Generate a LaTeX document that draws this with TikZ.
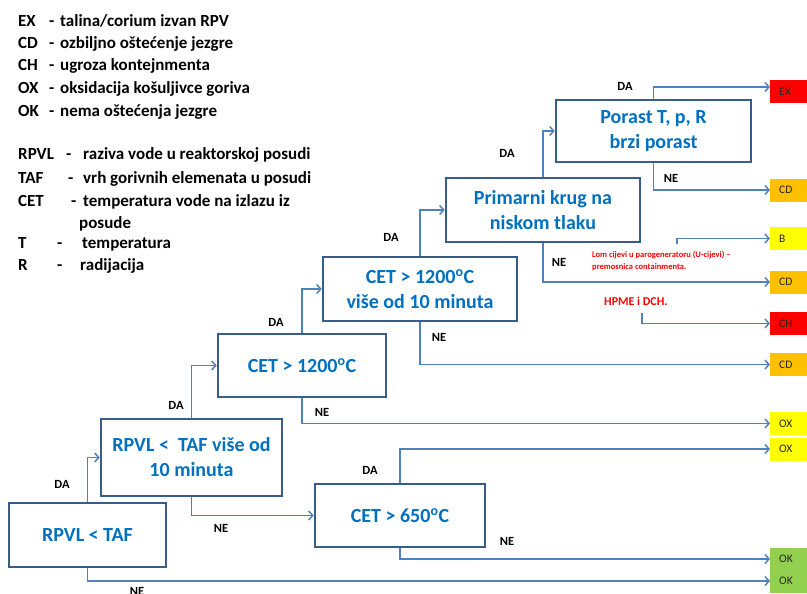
\documentclass[tikz,border=0pt]{standalone}
\usepackage{fontspec}
\setmainfont{Carlito}
\usetikzlibrary{arrows.meta,positioning}
\definecolor{BoxBorder}{RGB}{56,93,138}
\definecolor{LineBlue}{RGB}{79,129,189}
\definecolor{TextBlue}{RGB}{0,112,192}
\definecolor{ResRed}{RGB}{255,0,0}
\definecolor{ResOrange}{RGB}{255,192,0}
\definecolor{ResYellow}{RGB}{255,255,0}
\definecolor{ResGreen}{RGB}{146,208,80}

\begin{document}
\begin{tikzpicture}[x=1pt, y=-1pt, >={Straight Barb[length=4pt,width=9pt]},
    cond/.style={draw=BoxBorder, line width=2.6pt, align=center, text=TextBlue,
        font=\fontsize{20}{25}\selectfont\bfseries, inner sep=0pt},
    conn/.style={->, draw=LineBlue, line width=1.5pt},
    res/.style={anchor=west, minimum height=23pt, text width=28pt, inner xsep=9pt,
        align=left, font=\fontsize{11.5}{12}\selectfont, text=black!85},
    lbl/.style={font=\fontsize{12.5}{13}\selectfont\bfseries},
    note/.style={anchor=west, inner sep=0pt, align=left, text=ResRed,
        font=\fontsize{8.5}{12}\selectfont\bfseries},
    legend/.style={anchor=base west, inner sep=0pt, font=\fontsize{17}{20}\selectfont\bfseries}]
\useasboundingbox (0,0) rectangle (807,594);

% legend
\node[legend] (legex) at (18,27) {\makebox[31pt][l]{EX}\makebox[11pt][l]{-}talina/corium izvan RPV};
\node[legend] (legcd) at (18,49) {\makebox[31pt][l]{CD}\makebox[11pt][l]{-}ozbiljno oštećenje jezgre};
\node[legend] (legch) at (18,71) {\makebox[31pt][l]{CH}\makebox[11pt][l]{-}ugroza kontejnmenta};
\node[legend] (legox) at (18,94) {\makebox[31pt][l]{OX}\makebox[11pt][l]{-}oksidacija košuljivce goriva};
\node[legend] (legok) at (18,117) {\makebox[31pt][l]{OK}\makebox[11pt][l]{-}nema oštećenja jezgre};
\node[legend] (legrpvl) at (18,160) {\makebox[48pt][l]{RPVL}\makebox[17pt][l]{-}raziva vode u reaktorskoj posudi};
\node[legend] (legtaf) at (18,183) {\makebox[50pt][l]{TAF}\makebox[15pt][l]{-}vrh gorivnih elemenata u posudi};
\node[legend] (legcet) at (18,206) {\makebox[53pt][l]{CET}\makebox[12pt][l]{-}temperatura vode na izlazu iz};
\node[legend] (legcet2) at (79,228) {posude};
\node[legend] (legt) at (18,248) {\makebox[39pt][l]{T}\makebox[25pt][l]{-}temperatura};
\node[legend] (legr) at (18,270) {\makebox[39pt][l]{R}\makebox[23pt][l]{-}radijacija};

% condition boxes
\node[cond, minimum width=157pt, minimum height=64pt] (rpvl) at (87.5,535) {RPVL < TAF};
\node[cond, minimum width=181pt, minimum height=77pt] (rpvl10) at (191.5,457.5) {RPVL <\ \ TAF više od\\10 minuta};
\node[cond, minimum width=170pt, minimum height=63pt] (cet650) at (400,515.5) {CET > 650\textsuperscript{o}C};
\node[cond, minimum width=168pt, minimum height=63pt] (cet1200) at (302,365.5) {CET > 1200\textsuperscript{o}C};
\node[cond, minimum width=194pt, minimum height=64pt] (cet1200m) at (420,289) {CET > 1200\textsuperscript{o}C\\više od 10 minuta};
\node[cond, minimum width=194pt, minimum height=64pt] (primar) at (543,210) {Primarni krug na\\niskom tlaku};
\node[cond, minimum width=195pt, minimum height=62pt] (porast) at (653.5,131) {Porast T, p, R\\brzi porast};

% end states
\node[res, fill=ResRed] (ex) at (770,91.5) {EX};
\node[res, fill=ResOrange] (cd1) at (770,190) {CD};
\node[res, fill=ResYellow] (b) at (770,238.5) {B};
\node[res, fill=ResOrange] (cd2) at (770,282) {CD};
\node[res, fill=ResRed] (ch) at (770,323.5) {CH};
\node[res, fill=ResOrange] (cd3) at (770,364.5) {CD};
\node[res, fill=ResYellow] (ox1) at (770,423.5) {OX};
\node[res, fill=ResYellow] (ox2) at (770,449) {OX};
\node[res, fill=ResGreen] (ok1) at (770,559) {OK};
\node[res, fill=ResGreen] (ok2) at (770,581) {OK};

% notes
\node[note] (utubenote) at (592,261) {Lom cijevi u parogeneratoru (U-cijevi) –\\premosnica containmenta.};
\node[note, font=\fontsize{12}{14}\selectfont\bfseries] (hpmenote) at (604,301) {HPME i DCH.};
\coordinate (utube) at (677,244);
\coordinate (hpme) at (642,313);

% connectors
\draw[conn] (rpvl.north) |- (rpvl10.west);
\draw[conn] (rpvl.south) |- (ok2.west);
\draw[conn] (rpvl10.north) |- (cet1200.west);
\draw[conn] (rpvl10.south) |- (cet650.west);
\draw[conn] (cet650.north) |- (ox2.west);
\draw[conn] (cet650.south) |- (ok1.west);
\draw[conn] (cet1200.north) |- (cet1200m.west);
\draw[conn] (cet1200.south) |- (ox1.west);
\draw[conn] (cet1200m.north) |- (primar.west);
\draw[conn] (cet1200m.south) |- (cd3.west);
\draw[conn] (primar.north) |- (porast.west);
\draw[conn] (primar.south) |- (cd2.west);
\draw[conn] (porast.north) |- ([yshift=4.5pt]ex.west);
\draw[conn] (porast.south) |- (cd1.west);
\draw[conn] (utube) |- (b.west);
\draw[conn] (hpme) |- (ch.west);

% branch labels
\node[lbl] at (62,484) {DA};
\node[lbl] at (137,591.5) {NE};
\node[lbl] at (176,405) {DA};
\node[lbl] at (221,528) {NE};
\node[lbl] at (370,470) {DA};
\node[lbl] at (507,541) {NE};
\node[lbl] at (276,322) {DA};
\node[lbl] at (322,412) {NE};
\node[lbl] at (391,237) {DA};
\node[lbl] at (439,337) {NE};
\node[lbl] at (507,153) {DA};
\node[lbl] at (559,262) {NE};
\node[lbl] at (625,86) {DA};
\node[lbl] at (671,178) {NE};
\end{tikzpicture}
\end{document}
